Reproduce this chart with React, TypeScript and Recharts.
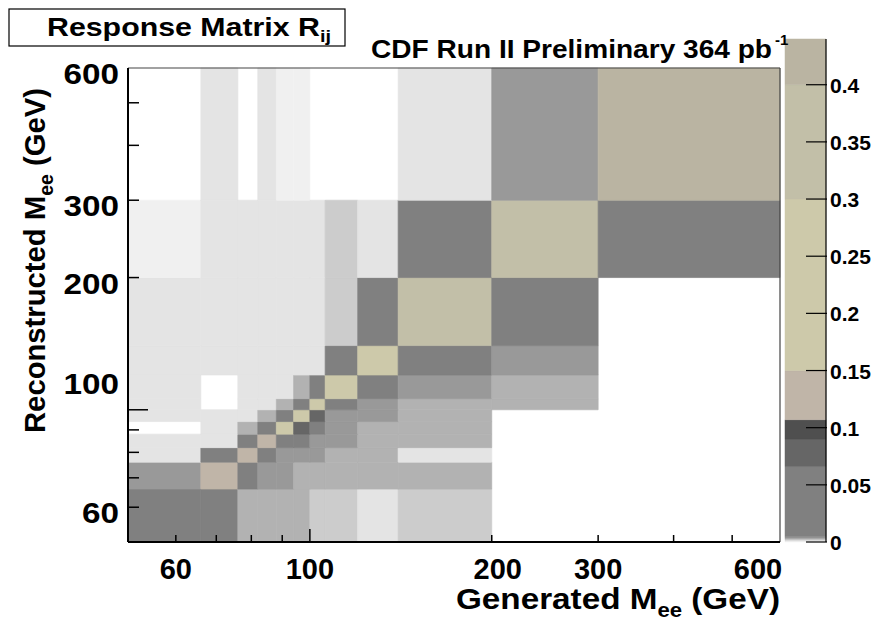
import React from 'react';
import { ScatterChart, Scatter, XAxis, YAxis, ReferenceArea, ReferenceLine } from 'recharts';

// Dielectron mass bin edges (GeV), shared by generated (x) and reconstructed (y) axes
const massEdges = [50, 66, 76, 82, 88, 94, 100, 106, 120, 140, 200, 300, 600];

// Response matrix R_ij: one array per reconstructed bin (low to high),
// each entry is the generated bin (low to high). Zero = empty cell.
const reco50to66 = [0.055, 0.021, 0.0028, 0.0027, 0.003, 0.0026, 0.0021, 0.0019, 0.0011, 0.002, 0, 0];
const reco66to76 = [0.0042, 0.128, 0.047, 0.0041, 0.0039, 0.003, 0.0028, 0.0027, 0.0029, 0.0026, 0, 0];
const reco76to82 = [0.0013, 0.038, 0.118, 0.044, 0.0043, 0.004, 0.0037, 0.0028, 0.0027, 0.0012, 0, 0];
const reco82to88 = [0.0011, 0.0014, 0.036, 0.131, 0.042, 0.019, 0.0041, 0.0038, 0.0029, 0.0026, 0, 0];
const reco88to94 = [0, 0.0012, 0.0029, 0.034, 0.186, 0.074, 0.028, 0.004, 0.0028, 0.0027, 0, 0];
const reco94to100 = [0.0012, 0.0013, 0.0011, 0.003, 0.045, 0.243, 0.081, 0.0044, 0.0042, 0.0028, 0, 0];
const reco100to106 = [0.0011, 0, 0.0012, 0.0013, 0.0028, 0.039, 0.226, 0.033, 0.0041, 0.0029, 0.0027, 0];
const reco106to120 = [0.0012, 0, 0.0011, 0.0013, 0.0012, 0.003, 0.041, 0.262, 0.025, 0.0043, 0.0028, 0];
const reco120to140 = [0.0011, 0.0012, 0.0013, 0.0011, 0.0012, 0.0014, 0.0012, 0.048, 0.274, 0.036, 0.004, 0];
const reco140to200 = [0.0012, 0.0011, 0.0013, 0.0012, 0.0011, 0.0012, 0.0013, 0.0021, 0.031, 0.338, 0.052, 0];
const reco200to300 = [0.0005, 0.0012, 0.0011, 0.0013, 0.0012, 0.0011, 0.0012, 0.002, 0.0013, 0.028, 0.362, 0.049];
const reco300to600 = [0, 0.0012, 0, 0.0011, 0.0006, 0.0005, 0, 0, 0, 0.0013, 0.0042, 0.412];

const responseRows = [
  reco50to66, reco66to76, reco76to82, reco82to88, reco88to94, reco94to100,
  reco100to106, reco106to120, reco120to140, reco140to200, reco200to300, reco300to600,
];

// Colour contours of the z scale
const zLevels = [0, 0.0008, 0.0016, 0.0024, 0.0032, 0.0045, 0.066, 0.09, 0.107, 0.15, 0.3, 0.4, 0.44];
const zColors = ['#f0f0f0', '#e4e4e4', '#cccccc', '#b2b2b2', '#999999', '#808080', '#666666', '#4f4f4f', '#c0b5a8', '#cdc9aa', '#c2bfa8', '#bab4a2'];
const zTicks = [0, 0.05, 0.1, 0.15, 0.2, 0.25, 0.3, 0.35, 0.4];

const massTicks = [60, 70, 80, 90, 100, 200, 300, 400, 500, 600];
const massLabels = [60, 100, 200, 300, 600];

const FONT = "'Liberation Sans', Arial, Helvetica, sans-serif";

const colorFor = (v: number) => {
  for (let k = zLevels.length - 2; k >= 0; k--) {
    if (v >= zLevels[k]) return zColors[k];
  }
  return zColors[0];
};

const cells: { x1: number; x2: number; y1: number; y2: number; v: number }[] = [];
responseRows.forEach((row, j) => {
  row.forEach((v, i) => {
    if (v > 0) {
      cells.push({ x1: massEdges[i], x2: massEdges[i + 1], y1: massEdges[j], y2: massEdges[j + 1], v });
    }
  });
});

// anchor points spanning both axes so the chart registers its domains
const massAnchors = [
  { x: massEdges[0], y: massEdges[0] },
  { x: massEdges[massEdges.length - 1], y: massEdges[massEdges.length - 1] },
];
const zAnchors = [
  { x: 0, z: zLevels[0] },
  { x: 1, z: zLevels[zLevels.length - 1] },
];

const xLabelShift: Record<number, number> = { 600: -22, 200: 6 };
const yLabelShift: Record<number, number> = { 100: -32 };

const GenTick = (props: any) => {
  const { x, payload } = props;
  const y = 542;
  const v = payload.value as number;
  const len = v === 100 ? 13 : 7;
  return (
    <g>
      {v < 600 && <line x1={x} y1={y} x2={x} y2={y - len} stroke="#000" strokeWidth={1.5} />}
      {massLabels.includes(v) && (
        <text x={x + (xLabelShift[v] ?? 0)} y={y + 37} textAnchor="middle" fontFamily={FONT} fontWeight="bold" fontSize={29} fill="#000">
          {v}
        </text>
      )}
    </g>
  );
};

const RecoTick = (props: any) => {
  const { y, payload } = props;
  const x = 128;
  const v = payload.value as number;
  const len = v === 100 ? 20 : 11;
  const label = String(v);
  return (
    <g>
      {v < 600 && <line x1={x} y1={y} x2={x + len} y2={y} stroke="#000" strokeWidth={1.5} />}
      {massLabels.includes(v) && (
        <text
          x={x - 9}
          y={y + 16 + (yLabelShift[v] ?? 0)}
          textAnchor="end"
          fontFamily={FONT}
          fontWeight="bold"
          fontSize={29}
          fill="#000"
          textLength={label.length * 18.5}
          lengthAdjust="spacingAndGlyphs"
        >
          {label}
        </text>
      )}
    </g>
  );
};

const ZTick = (props: any) => {
  const { y, payload } = props;
  const x = 827;
  const v = payload.value as number;
  return (
    <g>
      <line x1={x - 21} y1={y} x2={x} y2={y} stroke="#000" strokeWidth={1.2} />
      <text x={x + 3} y={y + 8} textAnchor="start" fontFamily={FONT} fontWeight="bold" fontSize={21} fill="#000">
        {String(v)}
      </text>
    </g>
  );
};

const NoMark = () => <g />;

const layer: React.CSSProperties = { position: 'absolute', left: 0, top: 0 };

export default function App() {
  return (
    <div style={{ position: 'absolute', left: 0, top: 0, width: 880, height: 626, background: '#fff' }}>
      <div style={layer}>
        <ScatterChart width={880} height={626} margin={{ top: 68, right: 100, bottom: 83, left: 127 }}>
          {cells.map((c, k) => {
            const col = colorFor(c.v);
            return (
              <ReferenceArea
                key={k}
                x1={c.x1}
                x2={c.x2}
                y1={c.y1}
                y2={c.y2}
                fill={col}
                fillOpacity={1}
                stroke={col}
                strokeWidth={0.7}
              />
            );
          })}
          <ReferenceLine y={600} stroke="#444" strokeWidth={1.2} />
          <ReferenceLine x={600} stroke="#444" strokeWidth={1.2} />
          <XAxis
            type="number"
            dataKey="x"
            scale="log"
            domain={[50, 600]}
            allowDataOverflow
            ticks={massTicks}
            interval={0}
            height={1}
            tickSize={0}
            tickMargin={0}
            tickLine={false}
            axisLine={{ stroke: '#000', strokeWidth: 2 }}
            tick={(p: any) => <GenTick {...p} />}
          />
          <YAxis
            type="number"
            dataKey="y"
            scale="log"
            domain={[50, 600]}
            allowDataOverflow
            ticks={massTicks}
            interval={0}
            width={1}
            tickSize={0}
            tickMargin={0}
            tickLine={false}
            axisLine={{ stroke: '#000', strokeWidth: 2 }}
            tick={(p: any) => <RecoTick {...p} />}
          />
          <Scatter data={massAnchors} isAnimationActive={false} shape={NoMark} />
        </ScatterChart>
      </div>
      <div style={layer}>
        <ScatterChart width={880} height={626} margin={{ top: 39, right: 53, bottom: 83, left: 785 }}>
          {zColors.map((col, k) => (
            <ReferenceArea key={k} x1={0} x2={1} y1={zLevels[k]} y2={zLevels[k + 1]} fill={col} fillOpacity={1} stroke={col} strokeWidth={0.5} />
          ))}
          <XAxis type="number" dataKey="x" domain={[0, 1]} allowDataOverflow height={1} tick={false} tickLine={false} axisLine={false} />
          <YAxis
            type="number"
            dataKey="z"
            orientation="right"
            domain={[0, 0.44]}
            allowDataOverflow
            ticks={zTicks}
            interval={0}
            width={1}
            tickSize={0}
            tickMargin={0}
            tickLine={false}
            axisLine={{ stroke: '#000', strokeWidth: 1.2 }}
            tick={(p: any) => <ZTick {...p} />}
          />
          <Scatter data={zAnchors} isAnimationActive={false} shape={NoMark} />
        </ScatterChart>
      </div>
      <svg style={layer} width={880} height={626}>
        <rect x={9} y={9} width={336} height={37} fill="#fff" stroke="#000" strokeWidth={1.2} />
        <text x={47} y={36} fontFamily={FONT} fontWeight="bold" fontSize={26} textLength={284} lengthAdjust="spacingAndGlyphs">
          Response Matrix R<tspan fontSize={17} dy={6}>ij</tspan>
        </text>
        <text x={371} y={58} fontFamily={FONT} fontWeight="bold" fontSize={25} textLength={401} lengthAdjust="spacingAndGlyphs">
          CDF Run II Preliminary 364 pb
        </text>
        <text x={775} y={45} fontFamily={FONT} fontWeight="bold" fontSize={15}>-1</text>
        <text x={456} y={609} fontFamily={FONT} fontWeight="bold" fontSize={30} textLength={324} lengthAdjust="spacingAndGlyphs">
          Generated M<tspan fontSize={20} dy={8}>ee</tspan><tspan dy={-8}> (GeV)</tspan>
        </text>
        <text
          transform="translate(45,433) rotate(-90)"
          x={0}
          y={0}
          fontFamily={FONT}
          fontWeight="bold"
          fontSize={30}
          textLength={345}
          lengthAdjust="spacingAndGlyphs"
        >
          Reconstructed M<tspan fontSize={20} dy={8}>ee</tspan><tspan dy={-8}> (GeV)</tspan>
        </text>
      </svg>
    </div>
  );
}
